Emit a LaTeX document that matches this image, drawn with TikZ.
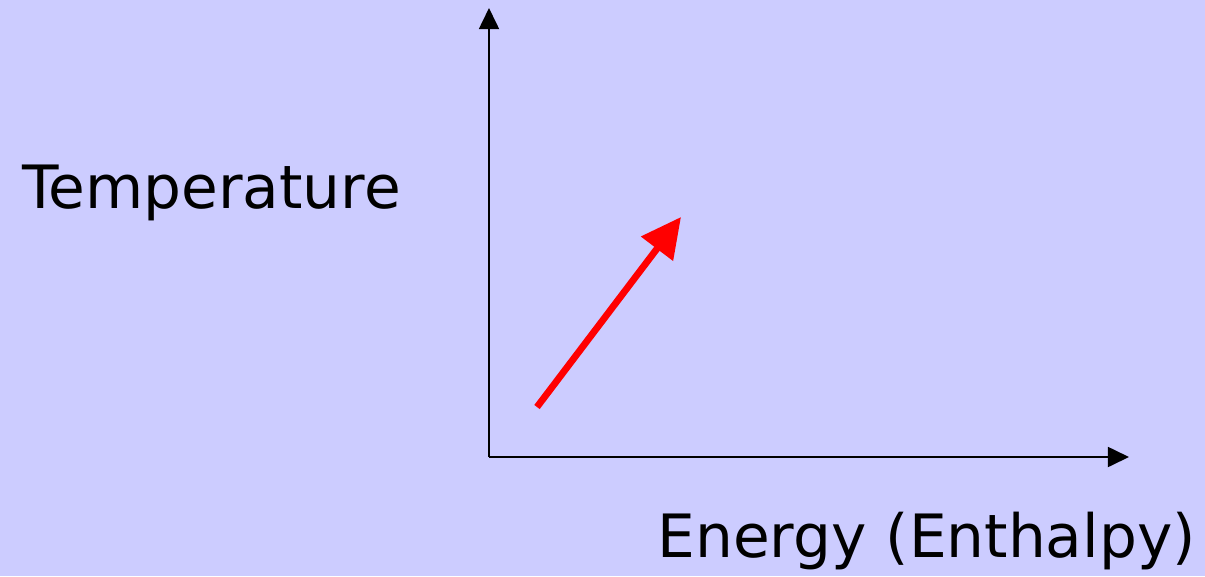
\documentclass[tikz,border=0pt]{standalone}
\usepackage{fontspec}
\setmainfont{DejaVu Sans}
\usepackage{xcolor}
\definecolor{plotbg}{HTML}{CCCCFF}
\definecolor{plotred}{HTML}{FF0000}
\usetikzlibrary{arrows.meta,positioning}
\tikzset{
  axisline/.style ={-{Triangle[length=18pt,width=17pt]}, line width=1.9pt, draw=black},
  heatarrow/.style={-{Triangle[length=34pt,width=33pt]}, line width=5.8pt, draw=plotred},
  axislbl/.style  ={font=\fontsize{51}{60}\selectfont, inner sep=0pt, text=black},
}

\begin{document}
\begin{tikzpicture}[x=0.03cm, y=-0.03cm]
  % background, sized like the slide
  \fill[plotbg] (0,0) rectangle (1205,576);
  \useasboundingbox (0,0) rectangle (1205,576);
  % axes
  \coordinate (origin) at (489,457);
  \coordinate (ytop) at (489,8);
  \coordinate (xend) at (1129,457);
  \draw[axisline] (origin) -- (ytop);
  \draw[axisline] (origin) -- (xend);
  % labels
  \node[axislbl, anchor=base west] (templbl) at (22,208) {Temperature};
  \node[axislbl, anchor=base east] (enerlbl) at (1196,557) {Energy (Enthalpy)};
  % heating line
  \coordinate (hstart) at (537,407);
  \coordinate (htip) at (681,217);
  \draw[heatarrow] (hstart) -- (htip);
\end{tikzpicture}
\end{document}
